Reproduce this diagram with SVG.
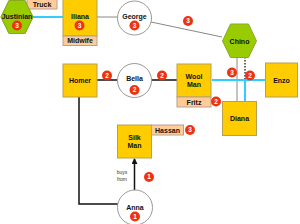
<svg xmlns="http://www.w3.org/2000/svg" width="300" height="224" viewBox="0 0 300 224">
<defs>
<style>
.box{fill:#FFCC00;stroke:#B8A050;stroke-width:1}
.hex{fill:#99CC00;stroke:#88AA22;stroke-width:1}
.circ{fill:#FFFFFF;stroke:#999999;stroke-width:1}
.lab{fill:#FFCC99;stroke:#B8A090;stroke-width:1}
.t{font-family:"Liberation Sans",Arial,sans-serif;font-weight:bold;font-size:7px;fill:#111;text-anchor:middle}
.bd{fill:#EE3311}
.bt{font-family:"Liberation Sans",Arial,sans-serif;font-weight:bold;font-size:6.5px;fill:#FFFFFF;text-anchor:middle}
.small{font-family:"Liberation Sans",Arial,sans-serif;font-size:5px;fill:#333;text-anchor:middle}
.gray{stroke:#888888;stroke-width:1;fill:none}
.black{stroke:#111111;stroke-width:1.5;fill:none}
.cyan{stroke:#33CCFF;stroke-width:2;fill:none}
</style>
<marker id="arr" markerWidth="6" markerHeight="6" refX="5" refY="3" orient="auto" markerUnits="userSpaceOnUse">
<path d="M0,0 L6,3 L0,6 z" fill="#111"/>
</marker>
</defs>
<rect width="300" height="224" fill="#FFFFFF"/>
<g id="connectors">
<line class="cyan" x1="33" y1="17" x2="63" y2="17"/>
<line class="gray" x1="97" y1="17" x2="117" y2="17"/>
<line class="gray" x1="151" y1="22" x2="222" y2="37"/>
<line class="gray" x1="237" y1="57" x2="237" y2="101"/>
<line x1="245" y1="57" x2="245" y2="80" stroke="#333" stroke-width="1.5" stroke-dasharray="1.5,1.5"/>
<line class="cyan" x1="212" y1="80" x2="266" y2="80"/>
<line class="cyan" x1="245" y1="80" x2="245" y2="101"/>
<line class="black" x1="97" y1="80" x2="117" y2="80"/>
<line class="black" x1="151" y1="80" x2="177" y2="80"/>
<polyline class="black" points="79,97 79,204 118,204"/>
<line class="black" x1="134.5" y1="190" x2="134.5" y2="159" marker-end="url(#arr)"/>
<text class="small" x="122" y="174">buys</text>
<text class="small" x="122" y="181">from</text>
<circle class="bd" cx="188" cy="21" r="5"/><text class="bt" x="188" y="23.3">3</text>
<circle class="bd" cx="107" cy="75.5" r="5"/><text class="bt" x="107" y="77.8">2</text>
<circle class="bd" cx="162" cy="75.5" r="5"/><text class="bt" x="162" y="77.8">2</text>
<circle class="bd" cx="232" cy="72.5" r="5"/><text class="bt" x="232" y="74.8">3</text>
<circle class="bd" cx="250" cy="75.5" r="5"/><text class="bt" x="250" y="77.8">2</text>
<circle class="bd" cx="149" cy="177" r="5"/><text class="bt" x="149" y="179.3">1</text>
</g>
<g id="justinian">
<polygon class="hex" points="1,17 9,0.5 25,0.5 33,17 25,33.5 9,33.5"/>
<rect class="lab" x="27" y="-1" width="30" height="10"/>
<text class="t" x="42" y="6.5">Truck</text>
<polygon class="hex" points="1,17 9,0.5 25,0.5 33,17 25,33.5 9,33.5"/>
<text class="t" x="17" y="19">Justinian</text>
<circle class="bd" cx="17" cy="25.5" r="5"/><text class="bt" x="17" y="27.8">3</text>
</g>
<g id="iliana">
<rect class="box" x="63" y="-1" width="34" height="37"/>
<rect class="lab" x="63" y="36" width="34" height="9.5"/>
<text class="t" x="80" y="18.5">Iliana</text>
<circle class="bd" cx="79.5" cy="25.5" r="5"/><text class="bt" x="79.5" y="27.8">3</text>
<text class="t" x="80" y="43">Midwife</text>
</g>
<g id="george">
<circle class="circ" cx="134.5" cy="18" r="17"/>
<text class="t" x="134.5" y="18.5">George</text>
<circle class="bd" cx="134.5" cy="25.5" r="5"/><text class="bt" x="134.5" y="27.8">3</text>
</g>
<g id="chino">
<polygon class="hex" points="222.5,41 230.5,24 248.5,24 256.5,41 248.5,57.5 230.5,57.5"/>
<text class="t" x="239.5" y="43.5">Chino</text>
</g>
<g id="homer">
<rect class="box" x="63" y="64" width="34" height="33"/>
<text class="t" x="80" y="82.5">Homer</text>
</g>
<g id="bella">
<circle class="circ" cx="134.5" cy="80.5" r="17"/>
<text class="t" x="134.5" y="81">Bella</text>
<circle class="bd" cx="134.5" cy="90" r="5"/><text class="bt" x="134.5" y="92.3">2</text>
</g>
<g id="woolman">
<rect class="box" x="177" y="64" width="34" height="33"/>
<rect class="lab" x="177" y="97" width="34" height="10"/>
<text class="t" x="194" y="78.5">Wool</text>
<text class="t" x="194" y="86.5">Man</text>
<text class="t" x="194" y="104.5">Fritz</text>
<circle class="bd" cx="216" cy="101.5" r="5"/><text class="bt" x="216" y="103.8">2</text>
</g>
<g id="enzo">
<rect class="box" x="265.5" y="63" width="32" height="34"/>
<text class="t" x="281.5" y="82.5">Enzo</text>
</g>
<g id="diana">
<rect class="box" x="222.5" y="101.5" width="34" height="34"/>
<text class="t" x="239.5" y="121">Diana</text>
</g>
<g id="silkman">
<rect class="box" x="117.5" y="125" width="34" height="33"/>
<rect class="lab" x="151.5" y="125" width="32" height="10"/>
<text class="t" x="134.5" y="140">Silk</text>
<text class="t" x="134.5" y="148">Man</text>
<text class="t" x="167.5" y="132.5">Hassan</text>
<circle class="bd" cx="190" cy="130" r="5"/><text class="bt" x="190" y="132.3">3</text>
</g>
<g id="anna">
<circle class="circ" cx="135" cy="207.5" r="17.5"/>
<text class="t" x="135" y="210">Anna</text>
<circle class="bd" cx="135" cy="216.5" r="5"/><text class="bt" x="135" y="218.8">1</text>
</g>
</svg>
